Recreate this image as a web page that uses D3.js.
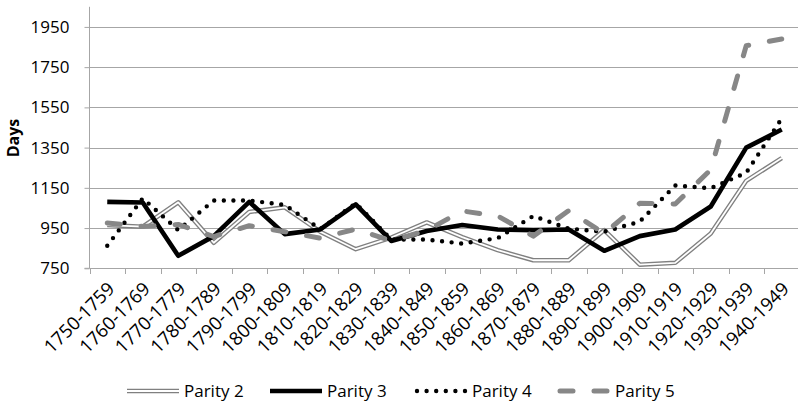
<!DOCTYPE html>
<html>
<head>
<meta charset="utf-8">
<script src="https://cdn.jsdelivr.net/npm/d3@7"></script>
<style>
  html, body { margin: 0; padding: 0; background: #fff; }
  svg { display: block; }
  text { font-family: "Open Sans", "Liberation Sans", sans-serif; fill: #000; }
</style>
</head>
<body>
<svg id="chart" width="798" height="402"></svg>
<script>
const categories = ["1750-1759","1760-1769","1770-1779","1780-1789","1790-1799","1800-1809","1810-1819","1820-1829","1830-1839","1840-1849","1850-1859","1860-1869","1870-1879","1880-1889","1890-1899","1900-1909","1910-1919","1920-1929","1930-1939","1940-1949"];
const parity2 = [965, 957, 1078, 877, 1030, 1053, 932, 845, 903, 978, 905, 840, 790, 790, 940, 768, 777, 923, 1185, 1298];
const parity3 = [1080, 1077, 812, 910, 1080, 920, 943, 1068, 886, 935, 965, 943, 940, 943, 837, 910, 943, 1057, 1350, 1440];
const parity4 = [862, 1098, 940, 1087, 1087, 1065, 945, 1073, 893, 893, 873, 900, 1010, 947, 932, 982, 1162, 1148, 1225, 1495];
const parity5 = [975, 958, 968, 908, 962, 932, 900, 945, 887, 938, 1035, 1010, 910, 1037, 923, 1073, 1070, 1240, 1857, 1890];
const seriesNames = ["Parity 2", "Parity 3", "Parity 4", "Parity 5"];
const yTicks = [750, 950, 1150, 1350, 1550, 1750, 1950];
const yMin = 750, yMax = 2050;

(function () {
const svg = d3.select("#chart");
const pLeft = 89.5, pRight = 799.5, pTop = 6.8, pBottom = 268.3;

const x = d3.scaleBand().domain(categories).range([pLeft, pRight]).paddingInner(0).paddingOuter(0);
const y = d3.scaleLinear().domain([yMin, yMax]).range([pBottom, pTop]);

// gridlines
svg.append("g").selectAll("line").data(yTicks.filter(t => t !== yMin)).join("line")
  .attr("x1", pLeft).attr("x2", pRight)
  .attr("y1", d => Math.round(y(d)) + 0.5).attr("y2", d => Math.round(y(d)) + 0.5)
  .attr("stroke", "#a6a6a6").attr("stroke-width", 1);

// y axis
const yAxis = d3.axisLeft(y).tickValues(yTicks).tickFormat(d3.format("d")).tickSize(5).tickPadding(15);
const gy = svg.append("g").attr("transform", `translate(${pLeft},0)`).call(yAxis);
gy.select(".domain").attr("stroke", "#a6a6a6").attr("d", `M-5,${pBottom}H0V${pTop}`);
gy.selectAll(".tick line").attr("stroke", "#a6a6a6");
gy.selectAll(".tick text").style("font-size", "17px").attr("fill", "#000");

// x axis
const xAxis = d3.axisBottom(x).tickSize(0).tickFormat(d => d);
const gx = svg.append("g").attr("transform", `translate(0,${Math.round(pBottom)+0.5})`).call(xAxis);
gx.select(".domain").attr("stroke", "#a6a6a6").attr("d", `M${pLeft},0H${pRight}`);
gx.selectAll(".tick text")
  .style("font-size", "18.5px").attr("fill", "#000")
  .attr("text-anchor", "end")
  .attr("transform", "translate(4,17) rotate(-45)")
  .attr("dy", "0.35em").attr("y", 0).attr("x", 0);
// tick marks at category boundaries
const bounds = categories.map(c => x(c));
svg.append("g").selectAll("line").data(bounds).join("line")
  .attr("x1", d => Math.round(d) + 0.5).attr("x2", d => Math.round(d) + 0.5)
  .attr("y1", Math.round(pBottom) + 0.5).attr("y2", Math.round(pBottom) + 6)
  .attr("stroke", "#a6a6a6");

// y title
svg.append("text").text("Days")
  .attr("transform", `translate(19,138) rotate(-90)`)
  .attr("text-anchor", "middle")
  .style("font-size", "16px").style("font-weight", "bold");

const line = d3.line().x((d, i) => x(categories[i]) + x.bandwidth() / 2).y(d => y(d));

const styles = [
  [{stroke: "#808080", width: 4.5}, {stroke: "#ffffff", width: 1.8}],
  [{stroke: "#000000", width: 4.6}],
  [{stroke: "#000000", width: 4.4, dash: "0,9.6", cap: "round"}],
  [{stroke: "#878787", width: 5, dash: "13,21", cap: "round"}]
];
const allSeries = [parity2, parity3, parity4, parity5];
const plotG = svg.append("g");
allSeries.forEach((data, si) => {
  styles[si].forEach(st => {
    plotG.append("path").datum(data)
      .attr("d", line)
      .attr("fill", "none")
      .attr("stroke", st.stroke)
      .attr("stroke-width", st.width)
      .attr("stroke-linejoin", "round")
      .attr("stroke-linecap", st.cap || "butt")
      .attr("stroke-dasharray", st.dash || null);
  });
});

// legend
const legendX = [127, 270, 415, 558];
const legendY = 391;
const lg = svg.append("g");
seriesNames.forEach((name, si) => {
  const x0 = legendX[si], x1 = x0 + 52;
  styles[si].forEach(st => {
    lg.append("line")
      .attr("x1", x0 + (st.cap === "round" ? 2 : 0)).attr("x2", x1)
      .attr("y1", legendY).attr("y2", legendY)
      .attr("stroke", st.stroke).attr("stroke-width", st.width)
      .attr("stroke-linecap", st.cap || "butt")
      .attr("stroke-dasharray", st.dash || null);
  });
  lg.append("text").text(name)
    .attr("x", x1 + 5).attr("y", legendY).attr("dy", "0.35em")
    .style("font-size", "17px");
});
})();
</script>
</body>
</html>
